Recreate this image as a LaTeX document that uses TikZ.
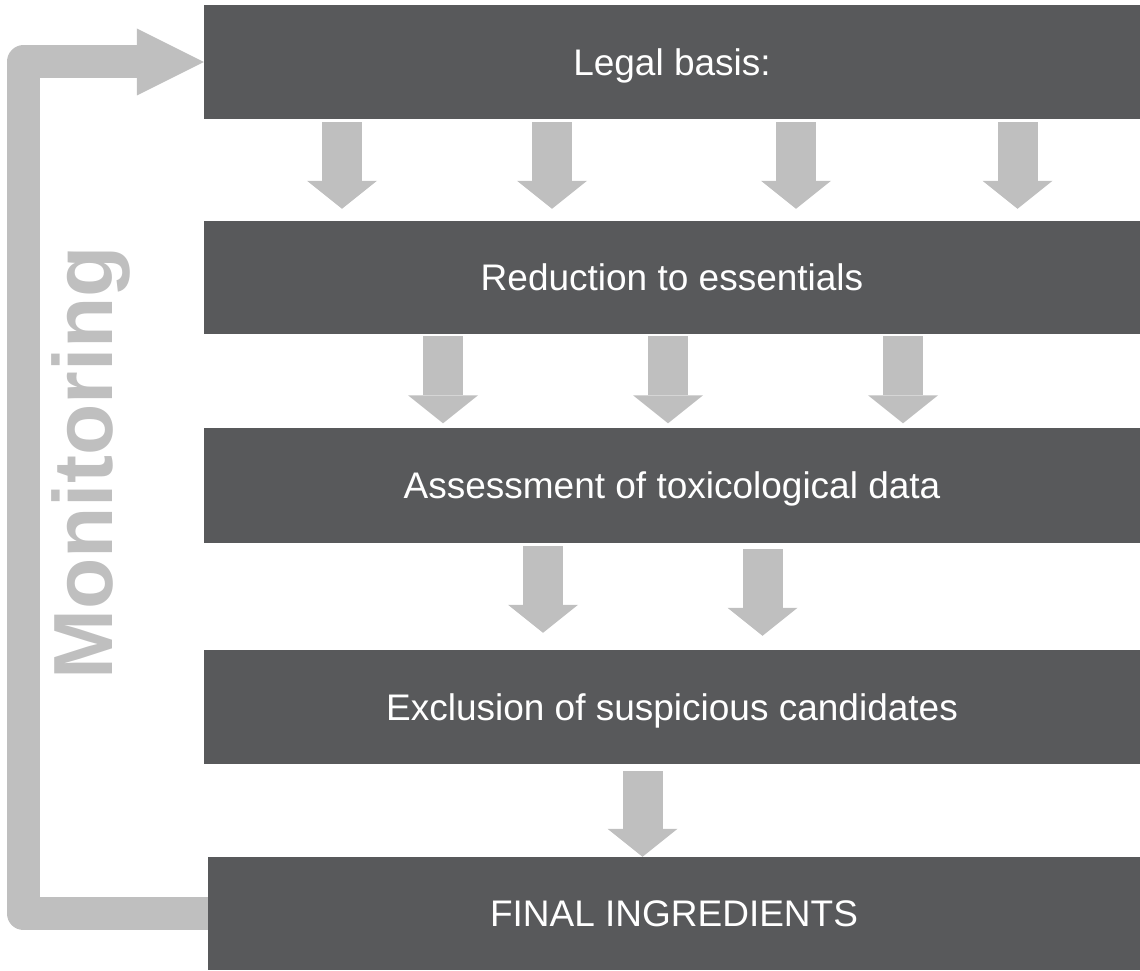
\documentclass[tikz,border=0pt]{standalone}
\usepackage{fontspec}
\setmainfont{Liberation Sans}
\usetikzlibrary{arrows.meta}
\definecolor{boxgray}{HTML}{58595B}
\definecolor{arrowgray}{HTML}{BFBFBF}
\begin{document}
\begin{tikzpicture}[x=1pt,y=1pt,
  stagebox/.style={fill=boxgray, draw=none, inner sep=0pt, minimum width=936pt,
    text=white, font=\fontsize{37}{44}\selectfont, text height=26.5pt, text depth=0pt},
  downarrow/.style={draw=arrowgray, line width=40pt, line cap=butt,
    -{Triangle[width=70pt,length=28pt,line width=0pt]}},
  loopline/.style={draw=arrowgray, line width=33pt, line cap=butt, line join=round,
    -{Triangle[width=67pt,length=67pt,line width=0pt]}}
]
\useasboundingbox (0,0) rectangle (1140,970);

\node[stagebox, minimum height=114pt] (b1) at (672,908) {Legal basis:};
\node[stagebox, minimum height=113pt] (b2) at (672,692.5) {Reduction to essentials};
\node[stagebox, minimum height=115pt] (b3) at (672,484.5) {Assessment of toxicological data};
\node[stagebox, minimum height=114pt] (b4) at (672,263) {Exclusion of suspicious candidates};
\node[stagebox, minimum height=113pt, minimum width=932pt] (b5) at (674,56.5) {FINAL INGREDIENTS};

% monitoring loop
\draw[loopline] (b5.west) -- ++(-184.5,0) |- (b1.west);
\node[text=arrowgray, font=\bfseries\fontsize{84}{90}\selectfont, rotate=90,
  anchor=base west, inner sep=0pt] (mon) at (112,290) {Monitoring};

% row 1
\draw[downarrow, shorten <=3pt, shorten >=12pt] ([xshift=-330pt]b1.south) -- ([xshift=-330pt]b2.north);
\draw[downarrow, shorten <=3pt, shorten >=12pt] ([xshift=-120pt]b1.south) -- ([xshift=-120pt]b2.north);
\draw[downarrow, shorten <=3pt, shorten >=12pt] ([xshift=124pt]b1.south) -- ([xshift=124pt]b2.north);
\draw[downarrow, shorten <=3pt, shorten >=12pt] ([xshift=345.5pt]b1.south) -- ([xshift=345.5pt]b2.north);
% row 2
\draw[downarrow, shorten <=2pt, shorten >=4.5pt] ([xshift=-229pt]b2.south) -- ([xshift=-229pt]b3.north);
\draw[downarrow, shorten <=2pt, shorten >=4.5pt] ([xshift=-4pt]b2.south) -- ([xshift=-4pt]b3.north);
\draw[downarrow, shorten <=2pt, shorten >=4.5pt] ([xshift=231pt]b2.south) -- ([xshift=231pt]b3.north);
% row 3
\draw[downarrow, shorten <=3pt, shorten >=17pt] ([xshift=-129pt]b3.south) -- ([xshift=-129pt]b4.north);
\draw[downarrow, shorten <=6pt, shorten >=14pt] ([xshift=90.5pt]b3.south) -- ([xshift=90.5pt]b4.north);
% row 4
\draw[downarrow, shorten <=7pt] ([xshift=-29.5pt]b4.south) -- ([xshift=-31.5pt]b5.north);
\end{tikzpicture}
\end{document}
